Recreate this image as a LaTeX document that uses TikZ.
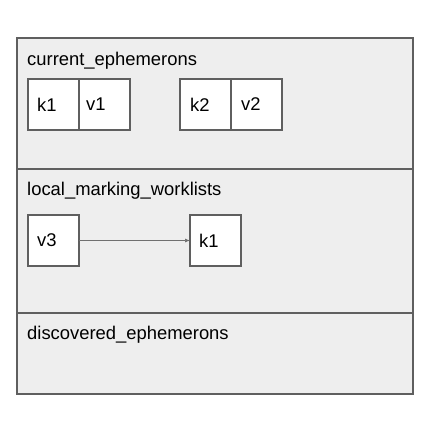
\documentclass[tikz,border=0pt]{standalone}
\usepackage{fontspec}
\setmainfont{Liberation Sans}
\usetikzlibrary{arrows.meta}
\definecolor{panelfill}{HTML}{EEEEEE}
\definecolor{edge}{HTML}{5F5F5F}
\definecolor{arrowc}{HTML}{707070}
\begin{document}
\begin{tikzpicture}[x=1pt,y=-1pt,
  panel/.style={draw=edge, fill=panelfill, line width=1.2pt},
  cell/.style={fill=white, minimum width=51pt,
    minimum height=51pt, inner sep=0pt, outer sep=0pt, anchor=north west},
  border/.style={draw=edge, line width=1.2pt},
  txt/.style={anchor=west, inner sep=0pt, font=\fontsize{18.4}{22}\selectfont},
  title/.style={anchor=base west, inner sep=0pt, font=\fontsize{18.4}{22}\selectfont},
  link/.style={draw=arrowc, line width=0.7pt, -{Latex[length=5pt,width=4pt]}}
]
\useasboundingbox (0,0) rectangle (437,426);
\path[panel] (17,38) rectangle (413,169);
\path[panel] (17,169) rectangle (413,313);
\path[panel] (17,313) rectangle (413,394);
\node[title] (t1) at (27,65) {current\_ephemerons};
\node[title] (t2) at (27,195) {local\_marking\_worklists};
\node[title] (t3) at (27,339) {discovered\_ephemerons};
\node[cell] (k1) at (28,79) {};
\node[cell] (v1) at (79,79) {};
\node[cell] (k2) at (180,79) {};
\node[cell] (v2) at (231,79) {};
\node[cell] (v3) at (28,215) {};
\node[cell] (k1b) at (190,215) {};
\foreach \c in {k1,v1,k2,v2,v3,k1b}
  \draw[border] (\c.north west) rectangle (\c.south east);
\node[txt] (k1t) at ([xshift=9pt]k1.west) {k1};
\node[txt] (v1t) at ([xshift=7pt]v1.west) {v1};
\node[txt] (k2t) at ([xshift=10pt]k2.west) {k2};
\node[txt] (v2t) at ([xshift=10pt]v2.west) {v2};
\node[txt] (v3t) at ([xshift=9pt]v3.west) {v3};
\node[txt] (k1bt) at ([xshift=9pt]k1b.west) {k1};
\draw[link] (v3.east) -- (k1b.west);
\end{tikzpicture}
\end{document}
